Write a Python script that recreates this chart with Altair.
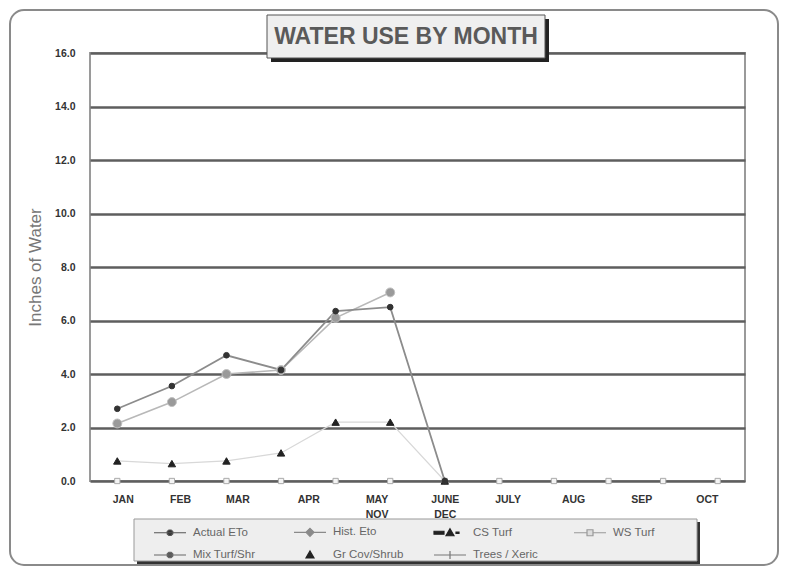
import math
import altair as alt
import pandas as pd

# ---------------- data ----------------
series_names = ["Actual ETo", "Hist. Eto", "CS Turf", "WS Turf",
                "Mix Turf/Shr", "Gr Cov/Shrub", "Trees / Xeric"]
actual_eto = [2.7, 3.55, 4.7, 4.15, 6.35, 6.5, 0.0]
hist_eto = [2.15, 2.95, 4.0, 4.15, 6.1, 7.05]
cs_turf = [0.75, 0.65, 0.75, 1.05, 2.2, 2.2, 0.0]
ws_turf = [0.0, 0.0, 0.0, 0.0, 0.0, 0.0, 0.0, 0.0, 0.0, 0.0, 0.0, 0.0]

tick_labels = ["JAN", "FEB", "MAR", "APR", "MAY\nNOV", "JUNE\nDEC",
               "JULY", "AUG", "SEP", "OCT"]
tick_label_pos = [0.1, 1.15, 2.2, 3.5, 4.75, 6.0, 7.15, 8.35, 9.6, 10.8]
y_ticks = [0, 2, 4, 6, 8, 10, 12, 14, 16]

FONT = "Liberation Sans"


def frame(name, values):
    return pd.DataFrame({"series": name,
                         "month": list(range(len(values))),
                         "value": values})


# x-axis label expression (multi-line labels returned as arrays)
def js_label(t):
    parts = t.split("\n")
    if len(parts) == 1:
        return "'" + t + "'"
    return "[" + ",".join("'" + p + "'" for p in parts) + "]"


label_expr = "''"
for p, t in reversed(list(zip(tick_label_pos, tick_labels))):
    label_expr = f"datum.value == {p} ? {js_label(t)} : ({label_expr})"

x_enc = alt.X(
    "month:Q",
    scale=alt.Scale(domain=[-0.5, 11.5], nice=False, zero=False),
    axis=alt.Axis(values=tick_label_pos, labelExpr=label_expr, ticks=False,
                  domain=False, grid=False, labelFontWeight="bold",
                  labelFontSize=10.5, labelColor="#333", labelFont=FONT,
                  labelPadding=13, labelLineHeight=15, labelOverlap=False,
                  labelFlush=False, labelBaseline="top"),
    title=None,
)
y_enc = alt.Y(
    "value:Q",
    scale=alt.Scale(domain=[0, 16], nice=False),
    axis=alt.Axis(values=y_ticks, format=".1f", ticks=False, domain=False,
                  grid=True, gridColor="#5e5e5e", gridWidth=2.6,
                  labelFontWeight="bold", labelFontSize=10.5, labelColor="#333",
                  labelFont=FONT, labelPadding=15, title="Inches of Water",
                  titleFont=FONT, titleFontSize=17, titleFontWeight="normal",
                  titleColor="#777", titlePadding=10),
)

styles = [
    ("WS Turf", ws_turf, None, 0, "square", 28, "#f4f4f4", "#aaaaaa"),
    ("CS Turf", cs_turf, "#d8d8d8", 1.2, "triangle-up", 55, "#222222", "#222222"),
    ("Hist. Eto", hist_eto, "#b8b8b8", 1.6, "circle", 80, "#9a9a9a", "#c0c0c0"),
    ("Actual ETo", actual_eto, "#8c8c8c", 1.8, "circle", 32, "#333333", "#333333"),
]

blank = alt.Data(values=[{}])


def deco_rect(x1, x2, y1, y2, **kw):
    return alt.Chart(blank).mark_rect(**kw).encode(
        x=alt.value(x1), x2=alt.value(x2), y=alt.value(y1), y2=alt.value(y2))


layers = []
# outer rounded frame
layers.append(deco_rect(-80, 688, -43, 512, fill="white", fillOpacity=0,
                        stroke="#8a8a8a", strokeWidth=2, cornerRadius=14))

line_layers, point_layers = [], []
for name, vals, lcol, lw, shape, size, fill, stroke in styles:
    df = frame(name, vals)
    if lcol:
        line_layers.append(alt.Chart(df).mark_line(color=lcol, strokeWidth=lw)
                           .encode(x=x_enc, y=y_enc))
    point_layers.append(alt.Chart(df).mark_point(
        shape=shape, size=size, filled=True, fill=fill, stroke=stroke,
        strokeWidth=1, opacity=1).encode(x=x_enc, y=y_enc))
layers += line_layers + point_layers

# title box
layers.append(deco_rect(181, 459, -34, 9, fill="#222"))
layers.append(deco_rect(177, 455, -38, 5, fill="#efefef", stroke="#555",
                        strokeWidth=1))
layers.append(alt.Chart(blank).mark_text(
    text="WATER USE BY MONTH", font=FONT, fontSize=23, fontWeight="bold",
    color="#5a5a5a", align="center", baseline="middle").encode(
    x=alt.value(316), y=alt.value(-16)))

# legend box
layers.append(deco_rect(47, 610, 469, 511, fill="#333"))
layers.append(deco_rect(44, 607, 466, 508, fill="#eeeeee", stroke="#999",
                        strokeWidth=1))


# legend symbols (custom paths, unit = 5px)
def octagon(r):
    pts = [(r * math.cos(math.pi / 8 + k * math.pi / 4),
            r * math.sin(math.pi / 8 + k * math.pi / 4)) for k in range(8)]
    return "M" + "L".join(f"{x:.3f},{y:.3f}" for x, y in pts) + "Z"


LINE = "M-3.2,0H3.2"
TRI = "M0,-0.8L0.8,0.6L-0.8,0.6Z"
legend_paths = [
    LINE + octagon(0.6),
    LINE + "M0,-0.8L0.8,0L0,0.8L-0.8,0Z",
    "M-3.2,-0.3H-1.2V0.3H-3.2Z" + TRI + "M1.2,-0.15H1.8V0.15H1.2Z",
    "M-3.2,0H-0.6M0.6,0H3.2M-0.6,-0.6H0.6V0.6H-0.6Z",
    LINE + octagon(0.6),
    TRI,
    LINE + "M0,-0.8V0.8",
]
legend_fill = ["#333", "#8a8a8a", "#222", "#dddddd", "#555", "#222", "#777"]
legend_stroke = ["#555", "#8a8a8a", "#222", "#999999", "#666", "#222", "#777"]

leg = alt.Legend(title=None, orient="none", legendX=74, legendY=473,
                 direction="horizontal", columns=4, columnPadding=27,
                 rowPadding=9, symbolSize=100,
                 labelOffset=17, labelFontSize=11.5, labelColor="#666",
                 labelFont=FONT, gridAlign="all", padding=0,
                 symbolStrokeWidth=1.2, labelLimit=200)

legend_layer = alt.Chart(pd.DataFrame({"series": series_names})).transform_filter(
    "false").mark_point(filled=True, opacity=1).encode(
    shape=alt.Shape("series:N", scale=alt.Scale(domain=series_names,
                                                range=legend_paths), legend=leg),
    fill=alt.Fill("series:N", scale=alt.Scale(domain=series_names,
                                              range=legend_fill), legend=leg),
    stroke=alt.Stroke("series:N", scale=alt.Scale(domain=series_names,
                                                  range=legend_stroke), legend=leg),
)
layers.append(legend_layer)

chart = alt.layer(*layers).properties(
    width=655, height=428,
    autosize=alt.AutoSizeParams(type="none"),
    padding={"left": 82, "top": 45, "right": 34, "bottom": 86},
    background="white",
).configure_view(fill="#f3f3f3", stroke="#9a9a9a", strokeWidth=2)

chart.save("out.html", embed_options={"renderer": "svg", "actions": False})
